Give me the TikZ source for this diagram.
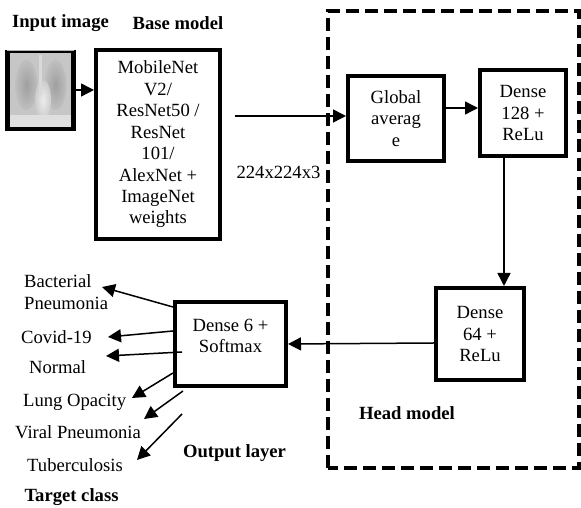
\documentclass[tikz,border=0pt]{standalone}
\usepackage{fontspec}
\setmainfont{Liberation Serif}
\usetikzlibrary{shapes, arrows.meta}

\begin{document}
\begin{tikzpicture}[
  >={Triangle[length=0.26cm, width=0.26cm]},
  every node/.style={font=\fontsize{10.6}{12.2}\selectfont},
  layer/.style={rectangle, draw=black, line width=0.08cm, align=center, inner sep=0pt},
  link/.style={->, line width=0.03cm},
  title/.style={font=\fontsize{10.6}{12.2}\selectfont\bfseries}
]
\useasboundingbox (0,0) rectangle (11.62,10.16);

\node[title] (1) at (1.21,9.70) {Input image};
\node[title] (2) at (3.56,9.70) {Base model};

% x-ray picture
\node[rectangle, draw=black, line width=0.06cm, fill=gray!45, minimum width=1.28cm, minimum height=1.54cm] (3) at (0.81,8.36) {};
\shade[inner color=gray!75, outer color=gray!50] ([shift={(-0.28,0.1)}]3.center) ellipse (0.22 and 0.5);
\shade[inner color=gray!75, outer color=gray!50] ([shift={(0.3,0.1)}]3.center) ellipse (0.22 and 0.5);
\shade[inner color=gray!15, outer color=gray!40] ([shift={(0.05,-0.2)}]3.center) ellipse (0.16 and 0.4);
\fill[gray!25] ([shift={(-0.62,-0.75)}]3.center) rectangle ([shift={(0.62,-0.5)}]3.center);
\draw[gray!30, line width=0.05cm] ([shift={(0,0.7)}]3.center) -- ([shift={(0,-0.1)}]3.center);
\draw[black, line width=0.08cm] ([shift={(-0.66,0.79)}]3.center) -- ([shift={(-0.66,-0.79)}]3.center) -- ([shift={(0.66,-0.79)}]3.center) -- ([shift={(0.66,0.79)}]3.center);
\draw[gray!60, line width=0.03cm] ([shift={(-0.66,0.79)}]3.center) -- ([shift={(0.66,0.79)}]3.center);

\node[layer, minimum width=2.48cm, minimum height=3.78cm] (4) at (3.16,7.27) {MobileNet\\V2/\\ResNet50 /\\ResNet\\101/\\AlexNet +\\ImageNet\\weights};
\node (5) at (5.57,6.72) {224x224x3};

\draw[line width=0.08cm, dash pattern=on 0.26cm off 0.12cm] (6.56,0.80) rectangle (11.58,9.94);

\node[layer, minimum width=1.92cm, minimum height=1.70cm] (6) at (7.92,7.79) {Global\\averag\\e};
\node[layer, minimum width=1.72cm, minimum height=1.72cm] (7) at (10.46,7.90) {Dense\\128 +\\ReLu};
\node[layer, minimum width=1.76cm, minimum height=1.84cm] (8) at (9.60,3.48) {Dense\\64 +\\ReLu};
\node[layer, minimum width=2.22cm, minimum height=1.68cm] (9) at (4.61,3.28) {Dense 6 +\\Softmax\\[-0.1cm]\mbox{}};

\node[title] (10) at (8.14,1.90) {Head model};
\node[title] (11) at (4.69,1.10) {Output layer};
\node[title] (12) at (1.43,0.22) {Target class};

\node[anchor=west, align=left] (13) at (0.36,4.32) {Bacterial\\Pneumonia};
\node[anchor=west] (14) at (0.30,3.42) {Covid-19};
\node[anchor=west] (15) at (0.46,2.82) {Normal};
\node[anchor=west] (16) at (0.34,2.12) {Lung Opacity};
\node[anchor=west] (17) at (0.18,1.52) {Viral Pneumonia};
\node[anchor=west] (18) at (0.42,0.86) {Tuberculosis};

\coordinate (19) at (4.70,7.84);
\coordinate (20) at (2.04,4.42);
\coordinate (21) at (2.16,3.42);
\coordinate (22) at (2.12,3.04);
\coordinate (23) at (2.64,2.20);
\coordinate (24) at (2.88,1.78);
\coordinate (25) at (2.74,0.96);

\draw[link] (3) -- (3 -| 4.west);
\draw[link] (19) -- (19 -| 6.west);
\draw[link] ([yshift=0.21cm]6.east) -- ([yshift=0.21cm]6.east -| 7.west);
\draw[link] ([xshift=-0.38cm]7.south) -- ([xshift=-0.38cm]7.south |- 8.north);
\draw[link] ([yshift=-0.18cm]8.west) -- (9.east);

\draw[link] ([shift={(0,0.74)}]9.west) -- (20);
\draw[link] ([shift={(0,0.26)}]9.west) -- (21);
\draw[link] ([shift={(0.18,-0.16)}]9.west) -- (22);
\draw[link] ([shift={(0,-0.58)}]9.west) -- (23);
\draw[link] ([shift={(0.2,-0.94)}]9.west) -- (24);
\draw[link] ([shift={(0.18,-1.40)}]9.west) -- (25);
\end{tikzpicture}
\end{document}
